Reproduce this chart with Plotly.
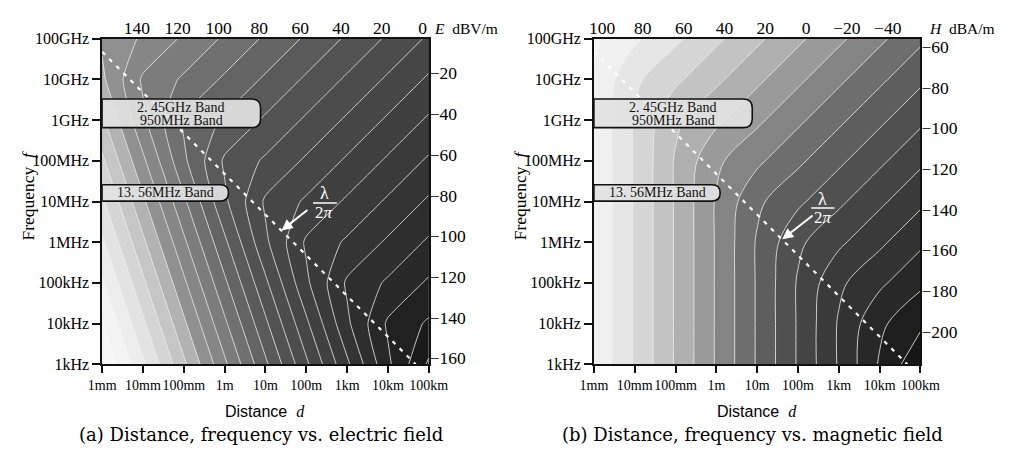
import numpy as np
import plotly.graph_objects as go

# ---------------- data ----------------
distance_m = [1e-3, 1e-2, 1e-1, 1, 10, 100, 1e3, 1e4, 1e5]
distance_labels = ["1mm", "10mm", "100mm", "1m", "10m", "100m", "1km", "10km", "100km"]
freq_hz = [1e3, 1e4, 1e5, 1e6, 1e7, 1e8, 1e9, 1e10, 1e11]
freq_labels = ["1kHz", "10kHz", "100kHz", "1MHz", "10MHz", "100MHz", "1GHz", "10GHz", "100GHz"]

# electric field E (dBV/m) read at each decade; rows = frequency 1kHz..100GHz, cols = distance 1mm..100km
e_field_dbv = [
    [304, 244, 184, 124, 64, 4, -56, -116, -163],
    [284, 224, 164, 104, 44, -16, -76, -123, -143],
    [264, 204, 144, 84, 24, -36, -83, -103, -123],
    [244, 184, 124, 64, 4, -43, -63, -83, -103],
    [224, 164, 104, 44, -3, -23, -43, -63, -83],
    [204, 144, 84, 37, 17, -3, -23, -43, -63],
    [184, 124, 77, 57, 37, 17, -3, -23, -43],
    [164, 117, 97, 77, 57, 37, 17, -3, -23],
    [157, 137, 117, 97, 77, 57, 37, 17, -3],
]
# magnetic field H (dBA/m)
h_field_dba = [
    [98, 58, 18, -22, -62, -102, -142, -182, -216],
    [98, 58, 18, -22, -62, -102, -142, -176, -196],
    [98, 58, 18, -22, -62, -102, -136, -156, -176],
    [98, 58, 18, -22, -62, -96, -116, -136, -156],
    [98, 58, 18, -22, -56, -76, -96, -116, -136],
    [98, 58, 18, -16, -36, -56, -76, -96, -116],
    [98, 58, 24, 4, -16, -36, -56, -76, -96],
    [98, 64, 44, 24, 4, -16, -36, -56, -76],
    [104, 84, 64, 44, 24, 4, -16, -36, -56],
]
e_top_ticks = [140, 120, 100, 80, 60, 40, 20, 0]
e_right_ticks = [-20, -40, -60, -80, -100, -120, -140, -160]
h_top_ticks = [100, 80, 60, 40, 20, 0, -20, -40]
h_right_ticks = [-60, -80, -100, -120, -140, -160, -180, -200]

# near/far field boundary d = lambda / 2pi (end points)
boundary_d_m = [1e-3, 4.77e4]
boundary_f_hz = [4.77e10, 1e3]

# ---------------- style ----------------
# the page body keeps its 8px margin: the figure is 1001x438 drawn at (8, 8)
OFF = 8
W, H = 1017 - 2 * OFF, 454 - 2 * OFF
SERIF = "Liberation Serif"
e_levels = dict(start=-160, end=300, size=20)
h_levels = dict(start=-200, end=100, size=20)
e_band_gray = [20, 26, 33, 40, 46, 52, 58, 64, 70, 76, 82, 90, 100, 112, 124, 134, 144,
               178, 198, 213, 227, 237, 244, 247, 249]
h_band_gray = [22, 30, 40, 50, 58, 68, 80, 94, 110, 132, 154, 176, 196, 214, 230, 240, 246]


def gray_scale(grays):
    n = len(grays)
    return [[i / (n - 1), f"rgb({g},{g},{g})"] for i, g in enumerate(grays)]


def px(x):
    return (x - OFF) / W


def py(y):
    return 1 - (y - OFF) / H


x_log = np.log10(distance_m)
y_log = np.log10(freq_hz)
bx = np.log10(boundary_d_m)
by = np.log10(boundary_f_hz)

fig = go.Figure()
panels = [
    ("x", "y", "x3", "y3", e_field_dbv, e_levels, e_band_gray, 0.5),
    ("x2", "y2", "x4", "y4", h_field_dba, h_levels, h_band_gray, 1.0),
]
for xa, ya, xt, yr, z, lev, grays, smooth in panels:
    fig.add_trace(go.Contour(
        x=x_log, y=y_log, z=z, xaxis=xa, yaxis=ya,
        contours=dict(start=lev["start"], end=lev["end"], size=lev["size"],
                      coloring="fill", showlines=True),
        line=dict(color="rgba(238,238,238,0.8)", width=1, smoothing=smooth),
        colorscale=gray_scale(grays), showscale=False, hoverinfo="skip"))
    fig.add_trace(go.Scatter(
        x=bx, y=by, xaxis=xa, yaxis=ya, mode="lines",
        line=dict(color="white", width=2.2, dash="4px,6px"),
        hoverinfo="skip", showlegend=False))
    zt = [z[-1][0], z[-1][-1]]
    zr = [z[0][-1], z[-1][-1]]
    fig.add_trace(go.Scatter(
        x=zt, y=zr, xaxis=xt, yaxis=yr, mode="markers",
        marker=dict(opacity=0), hoverinfo="skip", showlegend=False))

ytickfont = dict(family=SERIF, size=16, color="black")
xtickfont = dict(family=SERIF, size=14, color="black")
valfont = dict(family=SERIF, size=17.5, color="black")
ydom = [py(370.3), py(31.7)]
common_x = dict(range=[-3, 5], tickmode="array", tickvals=x_log, ticktext=distance_labels,
                ticks="outside", ticklen=7, tickwidth=1.5, tickcolor="#111", tickangle=0,
                showline=True, linecolor="#111", linewidth=1.6, mirror=True,
                showgrid=False, zeroline=False, tickfont=xtickfont, fixedrange=True)
common_y = dict(range=[3, 11], tickmode="array", tickvals=y_log, ticktext=freq_labels,
                ticks="outside", ticklen=8, tickwidth=1.5, tickcolor="#111",
                showline=True, linecolor="#111", linewidth=1.6, mirror=True,
                showgrid=False, zeroline=False, tickfont=ytickfont, fixedrange=True)
ov = dict(showline=False, ticks="", showgrid=False, zeroline=False, tickfont=valfont,
          tickmode="array", fixedrange=True, tickangle=0)

fig.update_layout(
    width=W, height=H, autosize=False,
    margin=dict(l=0, r=0, t=0, b=0),
    paper_bgcolor="white", plot_bgcolor="white",
    showlegend=False,
    xaxis=dict(domain=[px(91), px(429)], anchor="y", **common_x),
    yaxis=dict(domain=ydom, anchor="x", **common_y),
    xaxis2=dict(domain=[px(600), px(938)], anchor="y2", **common_x),
    yaxis2=dict(domain=ydom, anchor="x2", **common_y),
    xaxis3=dict(overlaying="x", side="top", anchor="y",
                range=[e_field_dbv[-1][0], e_field_dbv[-1][-1]], tickvals=e_top_ticks, **ov),
    yaxis3=dict(overlaying="y", side="right", anchor="x",
                range=[e_field_dbv[0][-1], e_field_dbv[-1][-1]], tickvals=e_right_ticks, **ov),
    xaxis4=dict(overlaying="x2", side="top", anchor="y2",
                range=[h_field_dba[-1][0], h_field_dba[-1][-1]], tickvals=h_top_ticks, **ov),
    yaxis4=dict(overlaying="y2", side="right", anchor="x2",
                range=[h_field_dba[0][-1], h_field_dba[-1][-1]], tickvals=h_right_ticks, **ov),
)


def pill(x0, x1, yb, yt, r):
    return (f"M {x0},{yt} L {x1 - r},{yt} Q {x1},{yt} {x1},{yt - r} "
            f"L {x1},{yb + r} Q {x1},{yb} {x1 - r},{yb} L {x0},{yb} Z")


shapes = []
annotations = []
arrow_cfg = {
    "x": dict(head=(1.395, 6.29), tail=(2.065, 6.82), lam=(2.444, 7.213), bar=(2.167, 2.751, 6.962), two=6.725),
    "x2": dict(head=(1.615, 6.07), tail=(2.396, 6.685), lam=(2.609, 7.07), bar=(2.325, 2.893, 6.84), two=6.60),
}
for xa, ya in [("x", "y"), ("x2", "y2")]:
    for (x1, yb, yt, r) in [(0.88, 8.815, 9.518, 0.22), (0.094, 7.009, 7.412, 0.2)]:
        shapes.append(dict(type="path", xref=xa, yref=ya, path=pill(-3, x1, yb, yt, r),
                           line=dict(color="#111", width=1.6),
                           fillcolor="rgba(226,226,226,0.92)", layer="above"))
    bf = dict(family=SERIF, size=14, color="#111")
    annotations += [
        dict(xref=xa, yref=ya, x=-1.06, y=9.32, text="2. 45GHz Band", showarrow=False, font=bf,
             xanchor="center", yanchor="middle"),
        dict(xref=xa, yref=ya, x=-1.06, y=8.985, text="950MHz Band", showarrow=False, font=bf,
             xanchor="center", yanchor="middle"),
        dict(xref=xa, yref=ya, x=-1.45, y=7.213, text="13. 56MHz Band", showarrow=False, font=bf,
             xanchor="center", yanchor="middle"),
    ]
    c = arrow_cfg[xa]
    annotations.append(dict(xref=xa, yref=ya, axref=xa, ayref=ya, x=c["head"][0], y=c["head"][1],
                            ax=c["tail"][0], ay=c["tail"][1], text="", showarrow=True,
                            arrowhead=2, arrowsize=1.1, arrowwidth=2, arrowcolor="white"))
    annotations.append(dict(xref=xa, yref=ya, x=c["lam"][0], y=c["lam"][1], text="λ", showarrow=False,
                            xanchor="center", yanchor="middle",
                            font=dict(family=SERIF, size=18, color="white")))
    annotations.append(dict(xref=xa, yref=ya, x=c["lam"][0], y=c["two"], text="2<i>π</i>", showarrow=False,
                            xanchor="center", yanchor="middle",
                            font=dict(family=SERIF, size=17, color="white")))
    shapes.append(dict(type="line", xref=xa, yref=ya, x0=c["bar"][0], x1=c["bar"][1],
                       y0=c["bar"][2], y1=c["bar"][2], line=dict(color="white", width=1.5)))

lab = dict(family=SERIF, size=15.5, color="black")
for xt, name, unit in [(432, "E", "dBV/m"), (945, "H", "dBA/m")]:
    annotations.append(dict(xref="paper", yref="paper", x=px(xt), y=py(21), xanchor="left",
                            yanchor="middle", text=f"<i>{name}</i>&nbsp;&nbsp;{unit}",
                            showarrow=False, font=lab))
for xl, xc, cap in [(14, 255, "(a) Distance, frequency vs. electric field"),
                    (523, 764, "(b) Distance, frequency vs. magnetic field")]:
    annotations.append(dict(xref="paper", yref="paper", x=px(xl), y=py(195), textangle=-90,
                            xanchor="center", yanchor="middle",
                            text="Frequency  <i>f</i>", showarrow=False,
                            font=dict(family=SERIF, size=17.5, color="black")))
    annotations.append(dict(xref="paper", yref="paper", x=px(xc + 5), y=py(419),
                            xanchor="center", yanchor="middle",
                            text="Distance&nbsp;&nbsp;<span style='font-family:Liberation Serif'><i>d</i></span>",
                            showarrow=False,
                            font=dict(family="Liberation Sans", size=16, color="black")))
    annotations.append(dict(xref="paper", yref="paper", x=px(xc), y=py(443), text=cap,
                            xanchor="center", yanchor="middle",
                            showarrow=False, font=dict(family="DejaVu Serif", size=18, color="black")))

fig.update_layout(shapes=shapes, annotations=annotations)
fig.write_html("out.html", config={"displayModeBar": False})
